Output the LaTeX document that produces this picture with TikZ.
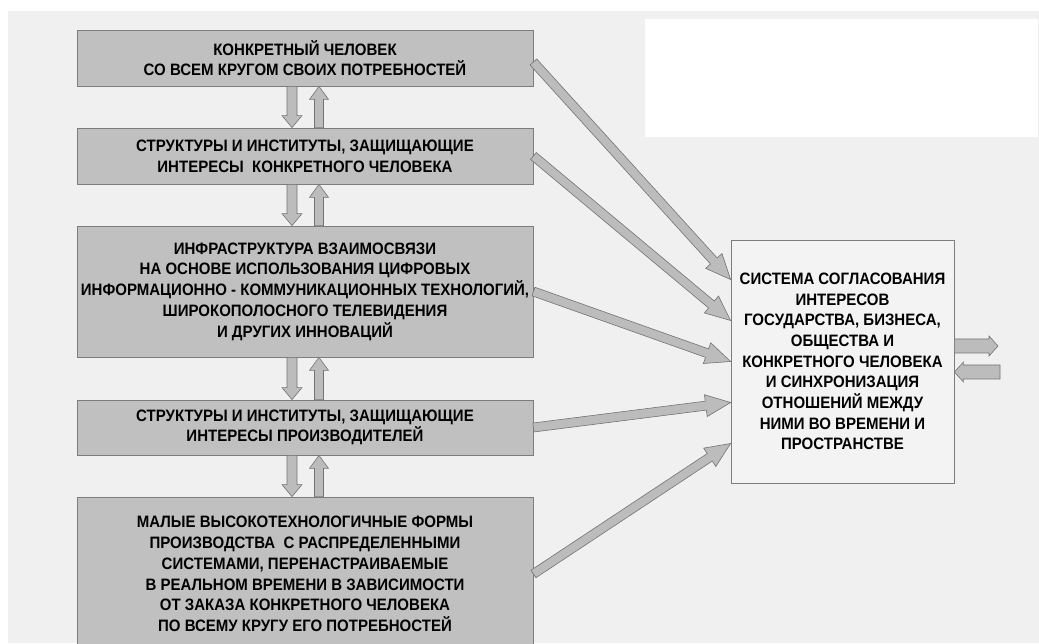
\documentclass[tikz,border=0pt]{standalone}
\usepackage{fontspec}
\setmainfont{Liberation Sans}[FakeStretch=0.91]
\usetikzlibrary{calc}

\definecolor{bggray}{RGB}{240,240,240}
\definecolor{boxfill}{RGB}{192,192,192}
\definecolor{boxline}{RGB}{125,125,125}
\definecolor{sysfill}{RGB}{243,243,243}
\definecolor{arrowfill}{RGB}{188,188,188}
\definecolor{arrowline}{RGB}{115,115,115}

% block arrow: tail, tip, shaft half width, head half width, head length
\newcommand{\blockarr}[5]{%
  \coordinate (h) at ($#2!#5!#1$);
  \draw[blockarrow] ($#1!#3!90:#2$) -- ($(h)!#3!90:#2$) -- ($(h)!#4!90:#2$) -- #2
    -- ($(h)!#4!-90:#2$) -- ($(h)!#3!-90:#2$) -- ($#1!#3!-90:#2$) -- cycle;
}

\begin{document}
\begin{tikzpicture}
        [x=1pt,y=1pt,
         box/.style={draw=boxline,fill=boxfill,line width=0.8pt,inner sep=0pt,align=center,
           minimum width=456pt,font=\fontsize{16.5}{20.7}\selectfont\bfseries},
         blockarrow/.style={draw=arrowline,fill=arrowfill,line width=0.6pt,line join=miter}]

        \useasboundingbox (0,0) rectangle (1039,643);
        \clip (0,0) rectangle (1039,643);
        \fill[white] (0,0) rectangle (1039,643);
        \fill[bggray] (8,0) rectangle (1039,632);
        \fill[white] (645,506) rectangle (1038,624);

        \node[box,minimum height=56pt] (n1) at (305,585) {КОНКРЕТНЫЙ ЧЕЛОВЕК\\СО ВСЕМ КРУГОМ СВОИХ ПОТРЕБНОСТЕЙ};
        \node[box,minimum height=56pt] (n2) at (305,487) {СТРУКТУРЫ И ИНСТИТУТЫ, ЗАЩИЩАЮЩИЕ\\ИНТЕРЕСЫ~ КОНКРЕТНОГО ЧЕЛОВЕКА};
        \node[box,minimum height=131pt] (n3) at (305,351.5) {ИНФРАСТРУКТУРА ВЗАИМОСВЯЗИ\\НА ОСНОВЕ ИСПОЛЬЗОВАНИЯ ЦИФРОВЫХ\\ИНФОРМАЦИОННО - КОММУНИКАЦИОННЫХ ТЕХНОЛОГИЙ,\\ШИРОКОПОЛОСНОГО ТЕЛЕВИДЕНИЯ\\И ДРУГИХ ИННОВАЦИЙ};
        \node[box,minimum height=55pt] (n4) at (305,215.5) {СТРУКТУРЫ И ИНСТИТУТЫ, ЗАЩИЩАЮЩИЕ\\ИНТЕРЕСЫ ПРОИЗВОДИТЕЛЕЙ};
        \node[box,minimum height=154pt] (n5) at (305,69) {МАЛЫЕ ВЫСОКОТЕХНОЛОГИЧНЫЕ ФОРМЫ\\ПРОИЗВОДСТВА~ С РАСПРЕДЕЛЕННЫМИ\\СИСТЕМАМИ, ПЕРЕНАСТРАИВАЕМЫЕ\\В РЕАЛЬНОМ ВРЕМЕНИ В ЗАВИСИМОСТИ\\ОТ ЗАКАЗА КОНКРЕТНОГО ЧЕЛОВЕКА\\ПО ВСЕМУ КРУГУ ЕГО ПОТРЕБНОСТЕЙ};
        \node[box,fill=sysfill,minimum width=223pt,minimum height=243pt] (sys) at (842.5,281.5) {СИСТЕМА СОГЛАСОВАНИЯ\\ИНТЕРЕСОВ\\ГОСУДАРСТВА, БИЗНЕСА,\\ОБЩЕСТВА И\\КОНКРЕТНОГО ЧЕЛОВЕКА\\И СИНХРОНИЗАЦИЯ\\ОТНОШЕНИЙ МЕЖДУ\\НИМИ ВО ВРЕМЕНИ И\\ПРОСТРАНСТВЕ};

        \coordinate (out) at (998,297);
        \coordinate (in) at (1000,271);

        \blockarr{([xshift=-13pt]n1.south)}{([xshift=-13pt]n2.north)}{5pt}{10pt}{12pt}
        \blockarr{([xshift=14pt]n2.north)}{([xshift=14pt]n1.south)}{4.5pt}{9.5pt}{13pt}
        \blockarr{([xshift=-13pt]n2.south)}{([xshift=-13pt]n3.north)}{5pt}{10pt}{12pt}
        \blockarr{([xshift=14pt]n3.north)}{([xshift=14pt]n2.south)}{4.5pt}{9.5pt}{13pt}
        \blockarr{([xshift=-13pt]n3.south)}{([xshift=-13pt]n4.north)}{5pt}{10pt}{12pt}
        \blockarr{([xshift=14pt]n4.north)}{([xshift=14pt]n3.south)}{4.5pt}{9.5pt}{13pt}
        \blockarr{([xshift=-13pt]n4.south)}{([xshift=-13pt]n5.north)}{5pt}{10pt}{12pt}
        \blockarr{([xshift=14pt]n5.north)}{([xshift=14pt]n4.south)}{4.5pt}{9.5pt}{13pt}

        \blockarr{([yshift=-4pt]n1.east)}{([yshift=82pt]sys.west)}{4.5pt}{11pt}{25pt}
        \blockarr{(n2.east)}{([yshift=41pt]sys.west)}{4.5pt}{11pt}{25pt}
        \blockarr{(n3.east)}{(sys.west)}{4.5pt}{11pt}{25pt}
        \blockarr{(n4.east)}{([yshift=-41pt]sys.west)}{4.5pt}{11pt}{25pt}
        \blockarr{(n5.east)}{([yshift=-82pt]sys.west)}{4.5pt}{11pt}{25pt}

        \blockarr{([yshift=15.5pt]sys.east)}{(out)}{7pt}{10pt}{9pt}
        \blockarr{(in)}{([yshift=-10.5pt]sys.east)}{7pt}{10pt}{9pt}

      \end{tikzpicture}
\end{document}
